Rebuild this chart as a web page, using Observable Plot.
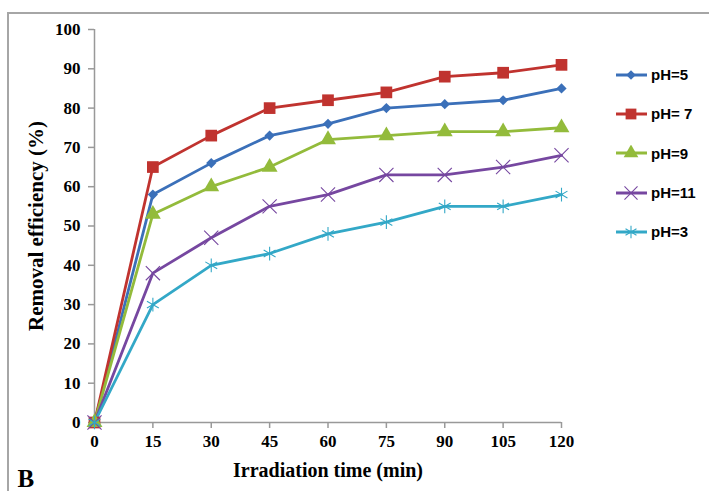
<!DOCTYPE html>
<html>
<head>
<meta charset="utf-8">
<script src="https://cdn.jsdelivr.net/npm/d3@7"></script>
<script src="https://cdn.jsdelivr.net/npm/@observablehq/plot@0.6"></script>
<style>
  html, body { margin: 0; padding: 0; background: #fff; }
  #wrap { position: relative; width: 709px; height: 491px; overflow: hidden; }
  #frame { position: absolute; left: 7px; top: 12px; right: -5px; bottom: -5px;
           border-top: 2px solid #a6a6a6; border-left: 2px solid #a6a6a6; }
  #chart { position: absolute; left: 0; top: 0; }
  #legend { position: absolute; left: 613px; top: 55px; font-family: "Liberation Sans", Arial, sans-serif;
            font-weight: bold; font-size: 15px; color: #000; }
  .item { display: flex; align-items: center; height: 39.3px; }
  .item svg { margin-right: 2px; }
</style>
</head>
<body>
<div id="wrap">
  <div id="frame"></div>
  <div id="chart"></div>
  <div id="legend"></div>
</div>
<script>
const times = [0, 15, 30, 45, 60, 75, 90, 105, 120];
const seriesNames = ["pH=5", "pH= 7", "pH=9", "pH=11", "pH=3"];
const pH5  = [0, 58, 66, 73, 76, 80, 81, 82, 85];
const pH7  = [0, 65, 73, 80, 82, 84, 88, 89, 91];
const pH9  = [0, 53, 60, 65, 72, 73, 74, 74, 75];
const pH11 = [0, 38, 47, 55, 58, 63, 63, 65, 68];
const pH3  = [0, 30, 40, 43, 48, 51, 55, 55, 58];
const xTicks = [0, 15, 30, 45, 60, 75, 90, 105, 120];
const yTicks = [0, 10, 20, 30, 40, 50, 60, 70, 80, 90, 100];

const seriesValues = [pH5, pH7, pH9, pH11, pH3];
const colors = ["#3b70b9", "#c0332f", "#93bb3b", "#7647a0", "#33a8c7"];
const symbols = ["diamond2", "square", "triangle", "times", "asterisk"];
const filled = [true, true, true, false, false];
const radii = [4.6, 6.6, 5.9, 6.5, 6.5];

const rows = [];
seriesNames.forEach((s, i) => times.forEach((t, j) => rows.push({series: s, time: t, value: seriesValues[i][j]})));

const serif = "'Liberation Serif', 'Times New Roman', serif";
const marks = [
  Plot.ruleY([0], {stroke: "#999", strokeWidth: 1.5}),
  Plot.ruleX([0], {stroke: "#999", strokeWidth: 1.5}),
  Plot.axisX({ticks: xTicks, tickSize: 6, tickPadding: 6, stroke: "#999", strokeWidth: 1.5, fill: "#000",
               label: null, fontSize: 17, fontWeight: "bold", fontFamily: serif, tickFormat: d => String(d)}),
  Plot.axisY({ticks: yTicks, tickSize: 6, tickPadding: 8, stroke: "#999", strokeWidth: 1.5, fill: "#000",
               label: null, fontSize: 17, fontWeight: "bold", fontFamily: serif, tickFormat: d => String(d)})
];
seriesNames.forEach((s, i) => {
  const data = rows.filter(d => d.series === s);
  marks.push(Plot.line(data, {x: "time", y: "value", stroke: colors[i], strokeWidth: 2.8}));
});
seriesNames.forEach((s, i) => {
  const data = rows.filter(d => d.series === s);
  marks.push(Plot.dot(data, filled[i]
    ? {x: "time", y: "value", symbol: () => symbols[i], r: radii[i], fill: colors[i], stroke: "none"}
    : {x: "time", y: "value", symbol: () => symbols[i], r: radii[i], stroke: colors[i], strokeWidth: 1.1, fill: "none"}));
});
marks.push(
  Plot.text(["Removal efficiency (%)"], {frameAnchor: "left", rotate: -90, dx: -58, textAnchor: "middle", lineAnchor: "middle",
    fontSize: 21, fontWeight: "bold", fontFamily: serif, fill: "#000"}),
  Plot.text(["Irradiation time (min)"], {frameAnchor: "bottom", dy: 48, textAnchor: "middle", lineAnchor: "middle",
    fontSize: 20, fontWeight: "bold", fontFamily: serif, fill: "#000"}),
  Plot.text(["B"], {frameAnchor: "bottom-left", dx: -77, dy: 56, textAnchor: "start", lineAnchor: "middle",
    fontSize: 25, fontWeight: "bold", fontFamily: serif, fill: "#000"})
);

const chart = Plot.plot({
  width: 709, height: 491,
  marginLeft: 94, marginRight: 148, marginTop: 29, marginBottom: 69,
  x: {domain: [0, 120]},
  y: {domain: [0, 100]},
  symbol: {type: "identity"},
  style: {background: "transparent", overflow: "visible"},
  marks
});
document.getElementById("chart").appendChild(chart);

// legend
const legend = d3.select("#legend");
const symMap = {diamond2: d3.symbolDiamond2, square: d3.symbolSquare, triangle: d3.symbolTriangle, times: d3.symbolTimes, asterisk: d3.symbolAsterisk};
seriesNames.forEach((s, i) => {
  const item = legend.append("div").attr("class", "item");
  const svg = item.append("svg").attr("width", 36).attr("height", 16);
  svg.append("line").attr("x1", 3).attr("x2", 34).attr("y1", 8).attr("y2", 8)
     .attr("stroke", colors[i]).attr("stroke-width", 3);
  const size = Math.PI * radii[i] * radii[i] * 0.85;
  const p = svg.append("path").attr("transform", "translate(18,8)").attr("d", d3.symbol(symMap[symbols[i]], size)());
  if (filled[i]) p.attr("fill", colors[i]);
  else p.attr("fill", "none").attr("stroke", colors[i]).attr("stroke-width", 1.1);
  item.append("span").text(s);
});
</script>
</body>
</html>
